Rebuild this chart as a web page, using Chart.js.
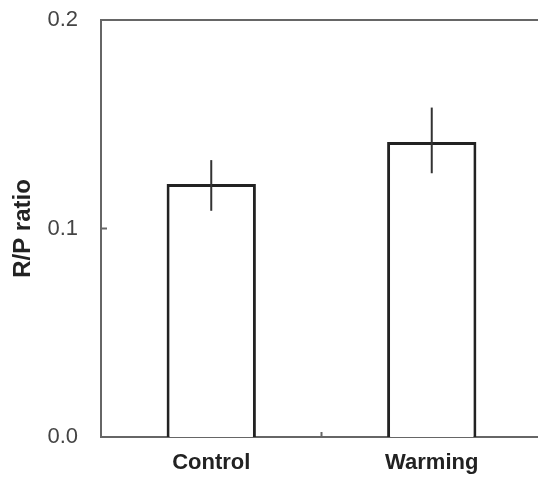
<!DOCTYPE html>
<html>
<head>
<meta charset="utf-8">
<script src="https://cdn.jsdelivr.net/npm/chart.js@4"></script>
<style>
  html, body { margin: 0; padding: 0; background: #fff; }
  #wrap { width: 538px; height: 478px; }
</style>
</head>
<body>
<div id="wrap"><canvas id="rp-chart"></canvas></div>
<script>
"use strict";
const categories = ['Control', 'Warming'];
const ratio = [0.1213, 0.1415];
const errLow = [0.1085, 0.1265];
const errHigh = [0.1328, 0.158];
const yTicks = [0.0, 0.1, 0.2];

const axisColor = '#666';
const fontFamily = 'Liberation Sans, Arial, sans-serif';

// the original plot runs a few px past the right edge of the picture
const overhang = {
  id: 'overhang',
  afterLayout(chart) {
    const x = chart.scales.x;
    x.right = chart.width + 4;
    x.width = x.right - x.left;
    x.configure();
    chart.chartArea.right = x.right;
    chart.chartArea.width = x.right - chart.chartArea.left;
  }
};

// error bars, inward ticks and the open top line
const extras = {
  id: 'extras',
  afterDatasetsDraw(chart) {
    const ctx = chart.ctx;
    const x = chart.scales.x;
    const y = chart.scales.y;
    const area = chart.chartArea;

    ctx.save();
    ctx.strokeStyle = '#333';
    ctx.lineWidth = 2;
    categories.forEach((c, i) => {
      const px = x.getPixelForValue(i);
      ctx.beginPath();
      ctx.moveTo(px, y.getPixelForValue(errLow[i]));
      ctx.lineTo(px, y.getPixelForValue(errHigh[i]));
      ctx.stroke();
    });

    ctx.strokeStyle = axisColor;
    ctx.beginPath();
    ctx.moveTo(area.left - 1, area.top);
    ctx.lineTo(chart.width, area.top);
    ctx.stroke();

    yTicks.forEach(v => {
      const py = y.getPixelForValue(v);
      ctx.beginPath();
      ctx.moveTo(area.left, py);
      ctx.lineTo(area.left + 6, py);
      ctx.stroke();
    });
    const mid = (x.getPixelForValue(0) + x.getPixelForValue(1)) / 2;
    ctx.beginPath();
    ctx.moveTo(mid, area.bottom);
    ctx.lineTo(mid, area.bottom - 5);
    ctx.stroke();
    ctx.restore();
  }
};

const ctx = document.getElementById('rp-chart').getContext('2d');
new Chart(ctx, {
  type: 'bar',
  data: {
    labels: categories,
    datasets: [{
      data: ratio,
      backgroundColor: '#fff',
      borderColor: '#222',
      borderWidth: 3,
      borderSkipped: 'bottom',
      categoryPercentage: 1,
      barPercentage: 0.405
    }]
  },
  options: {
    responsive: true,
    maintainAspectRatio: false,
    animation: false,
    layout: { padding: { top: 20, right: 0 } },
    plugins: { legend: { display: false }, tooltip: { enabled: false } },
    scales: {
      x: {
        grid: { display: false, drawTicks: false },
        border: { color: axisColor, width: 2 },
        ticks: {
          padding: 13,
          color: '#222',
          font: { family: fontFamily, size: 22, weight: 'bold' }
        },
        afterFit(scale) { scale.height = 41; }
      },
      y: {
        min: 0,
        max: 0.2,
        afterBuildTicks(scale) { scale.ticks = yTicks.map(v => ({ value: v })); },
        grid: { display: false, drawTicks: false },
        border: { color: axisColor, width: 2 },
        ticks: {
          padding: 23,
          color: '#444',
          callback: v => v.toFixed(1),
          font: { family: fontFamily, size: 22 }
        },
        title: {
          display: true,
          text: 'R/P ratio',
          color: '#222',
          padding: { top: 9, bottom: 0 },
          font: { family: fontFamily, size: 24, weight: 'bold' }
        },
        afterFit(scale) {
          scale.width = 101;
          scale.paddingTop = 0;
          scale.paddingBottom = 0;
        }
      }
    }
  },
  plugins: [overhang, extras]
});
</script>
</body>
</html>
